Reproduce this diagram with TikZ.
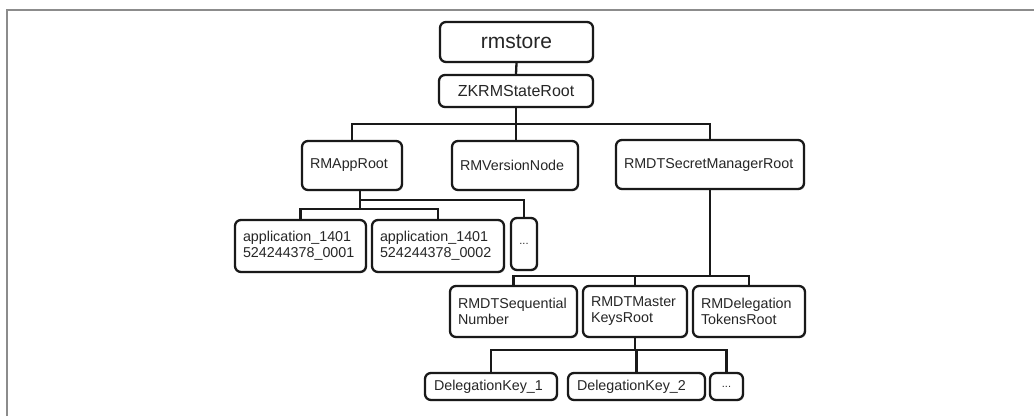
\documentclass[tikz,border=0pt]{standalone}
\usepackage{fontspec}
\setmainfont{Liberation Sans}
\usetikzlibrary{shadows}
\tikzset{
  tbox/.style={draw=black!90, line width=2.3pt, rounded corners=6pt, fill=white,
    inner xsep=8pt, inner ysep=0pt, align=left, text=black!85,
    font=\fontsize{14.3}{16}\selectfont,
    drop shadow={opacity=0.3, shadow xshift=1.2pt, shadow yshift=-1.2pt}},
  cbox/.style={tbox, align=center, inner xsep=0pt},
  link/.style={draw=black!90, line width=2.3pt},
  frame/.style={draw=black!45, line width=1.4pt}
}
\begin{document}
\begin{tikzpicture}[x=1pt, y=-1pt]
\useasboundingbox (0,0) rectangle (1034,416);
\draw[frame] (7,416) -- (7,10) -- (1034,10);

% bus levels
\coordinate (b1) at (0,124);
\coordinate (b3a) at (0,200);
\coordinate (b3b) at (0,209);
\coordinate (b4) at (0,276);
\coordinate (b5) at (0,350);

% row 0/1
\node[cbox, minimum width=153pt, minimum height=40pt, font=\fontsize{21}{24}\selectfont] (rm) at (516.5,42) {rmstore};
\node[cbox, minimum width=154pt, minimum height=32pt, font=\fontsize{16}{18}\selectfont] (zk) at (516,91) {ZKRMStateRoot};

% row 2
\node[tbox, text width=84pt, minimum height=49pt] (app) at (352,165.5) {RMAppRoot};
\node[tbox, text width=110pt, minimum height=49pt] (ver) at (515,165.5) {RMVersionNode};
\node[tbox, text width=172pt, minimum height=49pt] (sec) at (710,164.5) {RMDTSecretManagerRoot};

% row 3
\node[tbox, text width=115pt, minimum height=52pt] (a1) at (300.5,246) {application\_1401\\524244378\_0001};
\node[tbox, text width=116pt, minimum height=52pt] (a2) at (438,246) {application\_1401\\524244378\_0002};
\node[cbox, minimum width=26pt, minimum height=52pt, font=\fontsize{11}{12}\selectfont] (d1) at (524,244) {...};

% row 4
\node[tbox, text width=111pt, minimum height=51pt] (seq) at (513.5,311.5) {RMDTSequential\\Number};
\node[tbox, text width=88pt, minimum height=51pt] (mk) at (635,311.5) {RMDTMaster\\KeysRoot};
\node[tbox, text width=96pt, minimum height=51pt] (dl) at (749,311.5) {RMDelegation\\TokensRoot};

% row 5
\node[tbox, text width=114pt, inner xsep=9pt, minimum height=27pt] (k1) at (491,386.5) {DelegationKey\_1};
\node[tbox, text width=119pt, inner xsep=9pt, minimum height=27pt] (k2) at (636.5,386.5) {DelegationKey\_2};
\node[cbox, minimum width=33pt, minimum height=27pt, font=\fontsize{11}{12}\selectfont] (d2) at (726.5,386.5) {...};

% connectors
\draw[link] (rm.south) -- (zk.north);
\draw[link] (zk.south) -- (zk.south |- ver.north);
\draw[link] (app.north) -- (app.north |- b1) -- (sec.north |- b1) -- (sec.north);

\coordinate (ad) at ([xshift=8pt]app.south);
\draw[link] (ad) -- (ad |- b3b);
\draw[link] (ad |- b3a) -- (d1.north |- b3a) -- (d1.north);
\draw[link] (a1.north) -- (a1.north |- b3b) -- (a2.north |- b3b) -- (a2.north);

\draw[link] (sec.south) -- (sec.south |- b4);
\draw[link] (seq.north) -- (seq.north |- b4) -- (dl.north |- b4) -- (dl.north);
\draw[link] (mk.north) -- (mk.north |- b4);

\draw[link] (mk.south) -- (mk.south |- b5);
\draw[link] (k1.north) -- (k1.north |- b5) -- (d2.north |- b5) -- (d2.north);
\draw[link] (k2.north) -- (k2.north |- b5);
\end{tikzpicture}
\end{document}
